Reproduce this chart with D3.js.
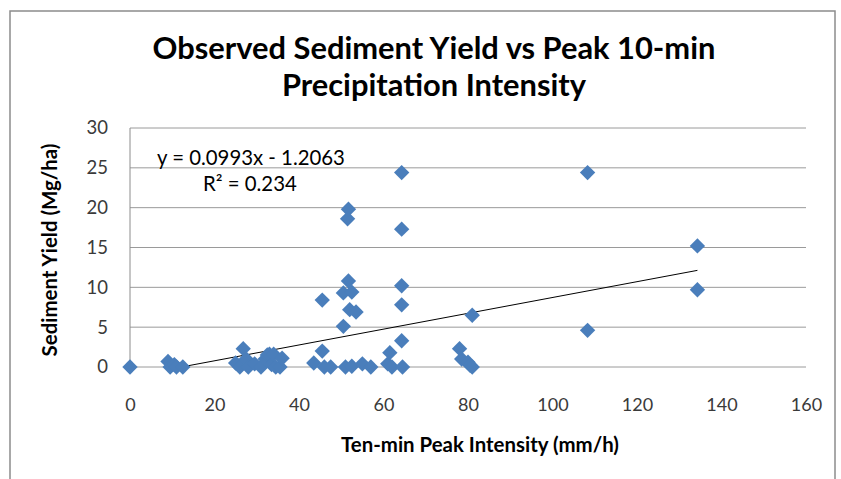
<!DOCTYPE html>
<html><head><meta charset="utf-8">
<script src="https://cdn.jsdelivr.net/npm/d3@7"></script>
<style>body{margin:0;background:#fff}svg{display:block}</style>
</head><body>
<svg id="c" width="841" height="479"></svg>
<script>
const intensity = [0,9,9.5,10.5,11,12.5,25,26,26.8,27.5,28,29.5,31,32,32.5,33,33.5,34,34.5,35.5,36,
  43.5,45.5,45.5,46,47.5,50.5,50.5,51,51.5,51.7,51.7,52,52.5,52.5,53.5,55,57,61,61.5,62,64.3,64.3,64.3,64.3,64.3,64.5,
  78,78.5,80,80.5,81,81,108.3,108.3,134.3,134.3];
const sediment = [0,0.7,0,0.3,0,0,0.5,0,2.3,1.0,0,0.4,0,1.0,1.5,1.6,0.3,1.6,0,0,1.1,
  0.5,2.0,8.4,0,0,5.1,9.3,0,18.6,19.8,10.8,7.2,9.4,0.1,6.9,0.4,0,0.4,1.8,0,24.4,17.3,10.2,7.8,3.3,0,
  2.3,1.0,0.6,0.2,6.5,0,24.4,4.6,15.2,9.7];
const xTicks = [0,20,40,60,80,100,120,140,160];
const yTicks = [0,5,10,15,20,25,30];
const trendSlope = 0.0993, trendIntercept = -1.2063;
const eqLabel = "y = 0.0993x - 1.2063";
const r2Label = "R² = 0.234";
const title1 = "Observed Sediment Yield vs Peak 10-min";
const title2 = "Precipitation Intensity";
const xTitle = "Ten-min Peak Intensity (mm/h)";
const yTitle = "Sediment Yield (Mg/ha)";

const svg = d3.select("#c");
const font = "Lato, 'Open Sans', sans-serif";
function fit(sel, w){ // scale font so the text is w px wide
  const fs = +sel.attr("font-size"); const L = sel.node().getComputedTextLength();
  sel.attr("font-size", fs*w/L); return fs*w/L;
}
svg.append("rect").attr("x",10).attr("y",11).attr("width",825).attr("height",480)
  .attr("fill","#fff").attr("stroke","#8c8c8c").attr("stroke-width",1.5);

const x = d3.scaleLinear().domain([0,160]).range([130,806]);
const y = d3.scaleLinear().domain([0,30]).range([367,128]);

svg.append("g").selectAll("line").data(yTicks).join("line")
  .attr("x1",x(0)).attr("x2",x(160)).attr("y1",d=>y(d)).attr("y2",d=>y(d))
  .attr("stroke","#9a9a9a").attr("stroke-width",1);
svg.append("line").attr("x1",x(0)).attr("x2",x(0)).attr("y1",y(0)).attr("y2",y(30))
  .attr("stroke","#8c8c8c");

const yAxis = d3.axisLeft(y).tickValues(yTicks).tickSize(0).tickPadding(22);
const gy = svg.append("g").attr("transform",`translate(${x(0)},0)`).call(yAxis);
gy.select(".domain").remove();
gy.selectAll("text").attr("font-family",font).attr("font-size",18.5).attr("fill","#3a3a3a");

const xAxis = d3.axisBottom(x).tickValues(xTicks).tickSize(0).tickPadding(31);
const gx = svg.append("g").attr("transform",`translate(0,${y(0)})`).call(xAxis);
gx.select(".domain").remove();
gx.selectAll("text").attr("font-family",font).attr("font-size",18).attr("fill","#3a3a3a");

svg.append("clipPath").attr("id","pc").append("rect")
  .attr("x",x(0)).attr("y",y(30)).attr("width",x(160)-x(0)).attr("height",y(0)-y(30));
const xmin = d3.min(intensity), xmax = d3.max(intensity);
svg.append("line").attr("clip-path","url(#pc)")
  .attr("x1",x(xmin)).attr("y1",y(trendSlope*xmin+trendIntercept))
  .attr("x2",x(xmax)).attr("y2",y(trendSlope*xmax+trendIntercept))
  .attr("stroke","#000").attr("stroke-width",1);

const pts = intensity.map((v,i)=>({x:v,y:sediment[i]}));
const sym = d3.symbol().type(d3.symbolSquare).size(118);
svg.append("g").selectAll("path").data(pts).join("path")
  .attr("d",sym).attr("transform",d=>`translate(${x(d.x)},${y(d.y)}) rotate(45)`)
  .attr("fill","#4a7ebb");

const eq = svg.append("text").attr("x",157).attr("y",165).text(eqLabel)
  .attr("font-family",font).attr("font-size",20).attr("fill","#000");
const eqFs = fit(eq, 188);
svg.append("text").attr("x",203).attr("y",191).text(r2Label)
  .attr("font-family",font).attr("font-size",eqFs).attr("fill","#000");

const t1 = svg.append("text").attr("x",434).attr("y",59).attr("text-anchor","middle").text(title1)
  .attr("font-family",font).attr("font-weight","bold").attr("font-size",30).attr("fill","#000");
const tFs = fit(t1, 563);
svg.append("text").attr("x",434).attr("y",96).attr("text-anchor","middle").text(title2)
  .attr("font-family",font).attr("font-weight","bold").attr("font-size",tFs).attr("fill","#000");
const xt = svg.append("text").attr("x",480).attr("y",452).attr("text-anchor","middle").text(xTitle)
  .attr("font-family",font).attr("font-weight","bold").attr("font-size",19).attr("fill","#000");
const aFs = fit(xt, 278);
svg.append("text").attr("transform","translate(57,250) rotate(-90)").attr("text-anchor","middle").text(yTitle)
  .attr("font-family",font).attr("font-weight","bold").attr("font-size",aFs).attr("fill","#000");
</script>
</body></html>
